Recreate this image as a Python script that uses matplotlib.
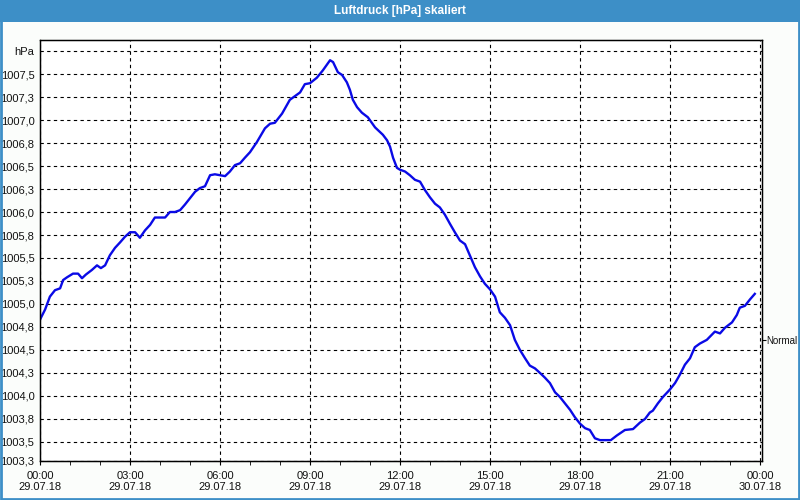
import matplotlib
matplotlib.use("Agg")
import matplotlib.pyplot as plt
from matplotlib.patches import Rectangle

# hours since 29.07.18 00:00, air pressure in hPa
hours = [0.00, 0.17, 0.33, 0.50, 0.67, 0.77, 0.90, 1.10, 1.27, 1.40, 1.53, 1.73,
         1.90, 2.03, 2.17, 2.33, 2.50, 2.67, 2.83, 3.00, 3.17, 3.33, 3.50, 3.67,
         3.83, 4.00, 4.17, 4.33, 4.50, 4.67, 4.83, 5.00, 5.17, 5.33, 5.50, 5.67,
         5.83, 6.00, 6.17, 6.33, 6.50, 6.67, 6.83, 7.00, 7.23, 7.50, 7.67, 7.83,
         8.07, 8.33, 8.67, 8.83, 9.00, 9.23, 9.43, 9.67, 9.77, 9.93, 10.07, 10.23,
         10.33, 10.43, 10.57, 10.73, 10.93, 11.17, 11.43, 11.57, 11.67, 11.77, 11.90,
         12.00, 12.17, 12.33, 12.50, 12.67, 12.83, 13.00, 13.17, 13.33, 13.50, 13.67,
         13.83, 14.00, 14.17, 14.33, 14.50, 14.67, 14.83, 15.00, 15.17, 15.33, 15.50,
         15.67, 15.83, 16.00, 16.17, 16.33, 16.50, 16.67, 16.83, 17.00, 17.17, 17.33,
         17.50, 17.67, 17.83, 18.00, 18.17, 18.33, 18.50, 18.67, 19.03, 19.23, 19.50,
         19.77, 20.00, 20.17, 20.33, 20.43, 20.60, 20.77, 21.00, 21.17, 21.33, 21.50,
         21.67, 21.83, 22.00, 22.23, 22.50, 22.67, 22.83, 23.07, 23.23, 23.33, 23.50,
         23.67, 23.83]
pressure = [1004.83, 1004.94, 1005.08, 1005.15, 1005.17, 1005.26, 1005.29, 1005.33,
            1005.33, 1005.28, 1005.32, 1005.37, 1005.42, 1005.39, 1005.42, 1005.53,
            1005.61, 1005.67, 1005.73, 1005.78, 1005.78, 1005.72, 1005.80, 1005.86,
            1005.94, 1005.94, 1005.94, 1006.00, 1006.00, 1006.02, 1006.08, 1006.15,
            1006.22, 1006.26, 1006.28, 1006.40, 1006.41, 1006.40, 1006.39, 1006.44,
            1006.51, 1006.53, 1006.59, 1006.65, 1006.76, 1006.91, 1006.96, 1006.97,
            1007.07, 1007.22, 1007.30, 1007.39, 1007.40, 1007.46, 1007.54, 1007.65,
            1007.63, 1007.52, 1007.49, 1007.41, 1007.33, 1007.22, 1007.14, 1007.08,
            1007.03, 1006.92, 1006.84, 1006.78, 1006.71, 1006.59, 1006.48, 1006.46,
            1006.44, 1006.40, 1006.35, 1006.33, 1006.24, 1006.16, 1006.09, 1006.05,
            1005.97, 1005.87, 1005.78, 1005.69, 1005.65, 1005.53, 1005.40, 1005.30,
            1005.22, 1005.16, 1005.08, 1004.91, 1004.85, 1004.77, 1004.61, 1004.50,
            1004.41, 1004.33, 1004.30, 1004.25, 1004.20, 1004.14, 1004.04, 1003.99,
            1003.92, 1003.85, 1003.77, 1003.70, 1003.65, 1003.63, 1003.54, 1003.52,
            1003.52, 1003.57, 1003.63, 1003.64, 1003.71, 1003.75, 1003.82, 1003.84,
            1003.92, 1003.99, 1004.07, 1004.14, 1004.23, 1004.34, 1004.41, 1004.53,
            1004.57, 1004.61, 1004.70, 1004.68, 1004.74, 1004.80, 1004.88, 1004.96,
            1004.98, 1005.05, 1005.11]

y_ticks = [1003.293, 1003.5, 1003.75, 1004.0, 1004.25, 1004.5, 1004.75, 1005.0,
           1005.25, 1005.5, 1005.75, 1006.0, 1006.25, 1006.5, 1006.75, 1007.0,
           1007.25, 1007.5, 1007.75]
y_labels = ["1003,3", "1003,5", "1003,8", "1004,0", "1004,3", "1004,5", "1004,8",
            "1005,0", "1005,3", "1005,5", "1005,8", "1006,0", "1006,3", "1006,5",
            "1006,8", "1007,0", "1007,3", "1007,5", "hPa"]
x_ticks = [0, 3, 6, 9, 12, 15, 18, 21, 24]
x_labels = ["00:00\n29.07.18", "03:00\n29.07.18", "06:00\n29.07.18",
            "09:00\n29.07.18", "12:00\n29.07.18", "15:00\n29.07.18",
            "18:00\n29.07.18", "21:00\n29.07.18", "00:00\n30.07.18"]
normal_pressure = 1004.61

plt.rcParams["font.family"] = ["Liberation Sans", "DejaVu Sans"]
fig = plt.figure(figsize=(8, 5), dpi=100, facecolor="#fbfdfb")

# window frame and title bar
fig.patches.append(Rectangle((0, 0.956), 1, 0.044, transform=fig.transFigure,
                             facecolor="#3d8fc7", edgecolor="none"))
fig.patches.append(Rectangle((0.001, 0.002), 0.998, 0.996, transform=fig.transFigure,
                             facecolor="none", edgecolor="#3d8fc7", linewidth=2))
fig.text(0.5, 0.978, "Luftdruck [hPa] skaliert", color="white", fontsize=8.5,
         fontweight="bold", ha="center", va="center")

ax = fig.add_axes([0.05, 0.078, 0.9025, 0.842])
ax.set_facecolor("white")
ax.plot(hours, pressure, color="#0a0ae6", linewidth=1.7)
ax.set_xlim(0, 24.07)
ax.set_ylim(1003.293, 1007.87)
ax.set_yticks(y_ticks)
ax.set_yticklabels(y_labels)
ax.set_xticks(x_ticks)
ax.set_xticklabels(x_labels)
ax.set_xticks(range(0, 25), minor=True)
ax.tick_params(axis="y", length=0, pad=4, labelsize=8, colors="#111111")
ax.tick_params(axis="x", which="both", direction="out", length=3, pad=4,
               labelsize=8, colors="#111111")
ax.tick_params(axis="x", which="both", color="black")
ax.grid(True, which="major", color="black", linestyle=(0, (3, 3)), linewidth=0.8)
for s in ax.spines.values():
    s.set_linewidth(1)

ax2 = ax.twinx()
ax2.set_ylim(ax.get_ylim())
ax2.set_yticks([normal_pressure])
ax2.set_yticklabels(["Normal"])
ax2.tick_params(axis="y", length=3, pad=0, labelsize=7, colors="#111111")
ax2.tick_params(axis="y", color="black")

fig.savefig("out.png", dpi=100, facecolor=fig.get_facecolor())
